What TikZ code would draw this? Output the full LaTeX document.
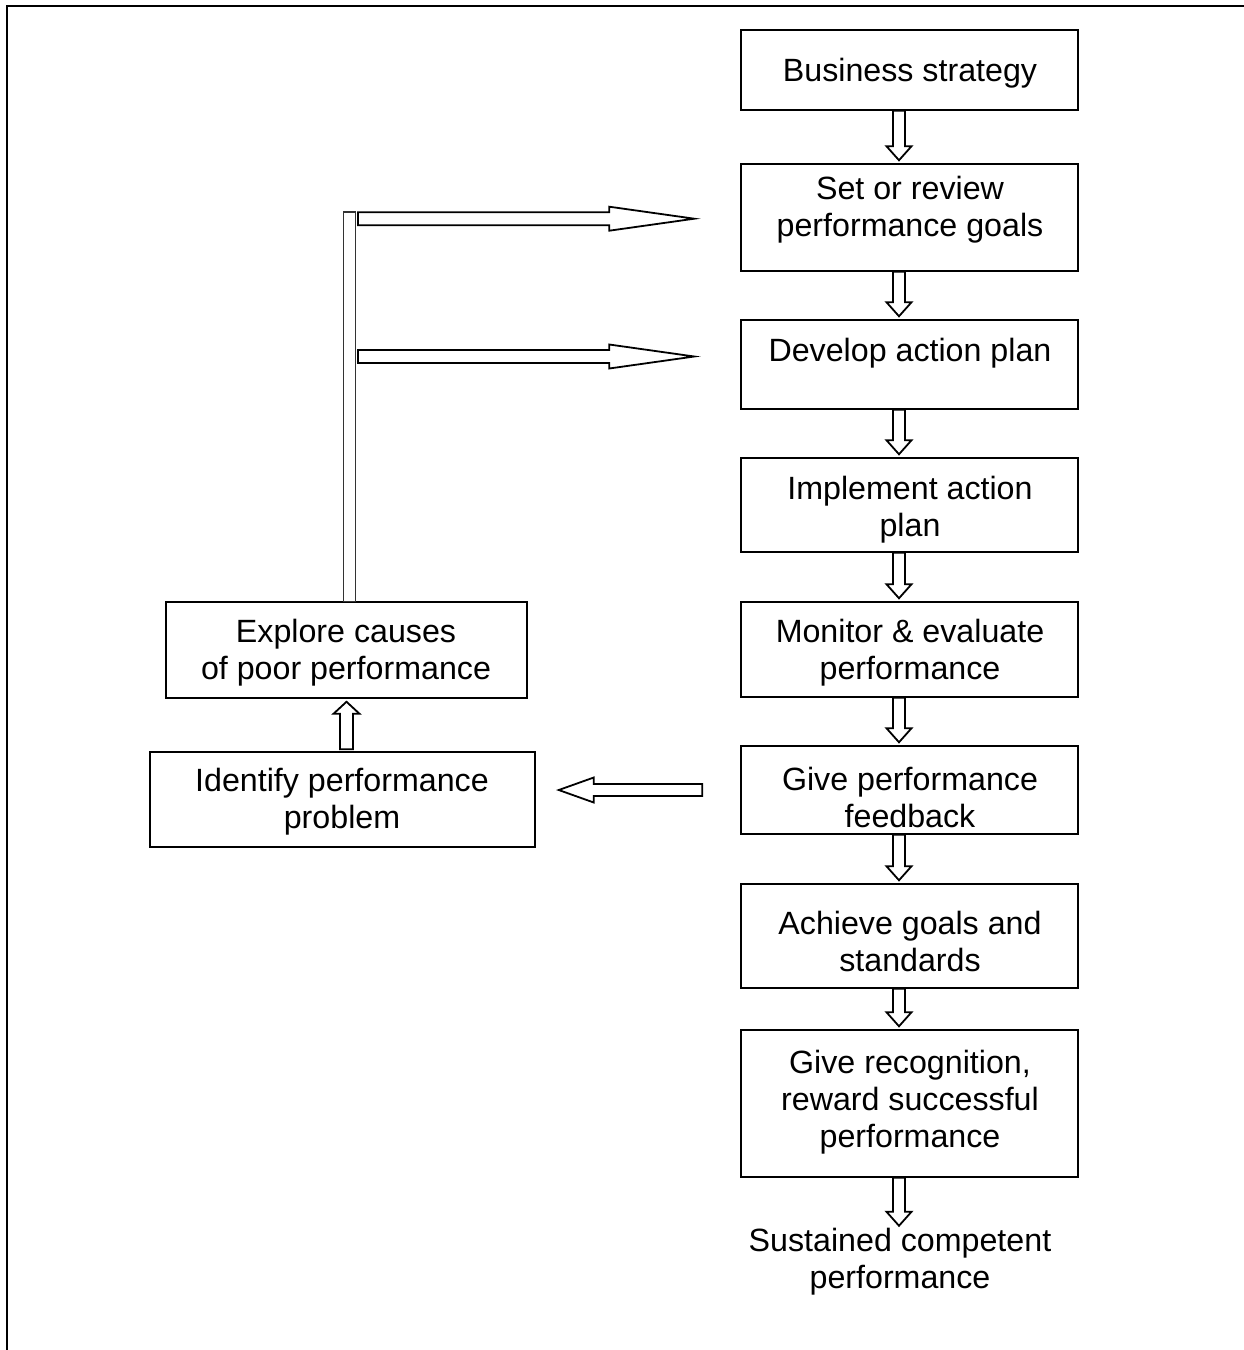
\documentclass[tikz,border=0pt]{standalone}
\usepackage{fontspec}
\setmainfont{Liberation Sans}
\usetikzlibrary{calc}

\tikzset{
  stepbox/.style={draw=black, line width=1.5pt, rectangle, inner sep=0pt},
  txt/.style={align=center, inner sep=0pt, font=\fontsize{32.2}{37}\selectfont},
  hollow/.style={draw=black, fill=white, line width=1.8pt, line join=miter},
  barline/.style={draw=black!80, line width=1.2pt},
  frameline/.style={draw=black, line width=2.5pt, line cap=rect}
}

% hollow block arrow: tail, tip, shaft half-width, head half-width, head length
\newcommand{\hollowarrow}[5]{%
  \coordinate (ha-base) at ($(#2)!#5!(#1)$);
  \draw[hollow] ($(#1)!#3!90:(#2)$) -- ($(ha-base)!#3!-90:(#1)$)
    -- ($(ha-base)!#4!-90:(#1)$) -- (#2) -- ($(ha-base)!#4!90:(#1)$)
    -- ($(ha-base)!#3!90:(#1)$) -- ($(#1)!#3!-90:(#2)$) -- cycle;
}

\begin{document}
\begin{tikzpicture}[x=1pt, y=-1pt]
\useasboundingbox (0,0) rectangle (1243,1350);

% open frame, left and top edges
\draw[frameline] (7,1350) -- (7,6) -- (1243,6);

% main column of steps
\node[stepbox, minimum width=337pt, minimum height=80pt]  (b1) at (909.5,70)    {};
\node[stepbox, minimum width=337pt, minimum height=107pt] (b2) at (909.5,217.5)  {};
\node[stepbox, minimum width=337pt, minimum height=89pt]  (b3) at (909.5,364.5)  {};
\node[stepbox, minimum width=337pt, minimum height=94pt]  (b4) at (909.5,505)    {};
\node[stepbox, minimum width=337pt, minimum height=95pt]  (b5) at (909.5,649.5)  {};
\node[stepbox, minimum width=337pt, minimum height=88pt]  (b6) at (909.5,790)    {};
\node[stepbox, minimum width=337pt, minimum height=104pt] (b7) at (909.5,936)    {};
\node[stepbox, minimum width=337pt, minimum height=147pt] (b8) at (909.5,1103.5) {};

\node[txt] (t1) at (910,73)    {Business strategy};
\node[txt] (t2) at (910,210)   {Set or review\\performance goals};
\node[txt] (t3) at (910,353)   {Develop action plan};
\node[txt] (t4) at (910,510)   {Implement action\\plan};
\node[txt] (t5) at (910,653)   {Monitor \& evaluate\\performance};
\node[txt] (t6) at (910,797)   {Give performance\\feedback};
\node[txt] (t7) at (910,941)   {Achieve goals and\\standards};
\node[txt] (t8) at (910,1102)  {Give recognition,\\reward successful\\performance};
\node[txt] (t9) at (900,1262)  {Sustained competent\\performance};

% side loop
\node[stepbox, minimum width=361pt, minimum height=96pt] (e) at (346.5,650)   {};
\node[stepbox, minimum width=385pt, minimum height=95pt] (p) at (342.5,799.5) {};
\node[txt] (te) at (346,653) {Explore causes\\of poor performance};
\node[txt] (tp) at (342,802) {Identify performance\\problem};

% downward arrows between the steps
\coordinate (colx) at (899,0);
\foreach \a/\b in {b1/b2,b2/b3,b3/b4,b4/b5,b5/b6,b6/b7,b7/b8} {
  \coordinate (dtail) at (\a.south -| colx);
  \coordinate (dtip) at ($(\b.north -| colx)+(0,-3)$);
  \hollowarrow{dtail}{dtip}{6pt}{12.5pt}{14pt}
}
\coordinate (dtail) at (b8.south -| colx);
\coordinate (dtip) at ($(b8.south -| colx)+(0,48)$);
\hollowarrow{dtail}{dtip}{6pt}{12.5pt}{14pt}

% feedback to problem identification
\coordinate (ltail) at ($(b6.west)+(-38,0)$);
\coordinate (ltip) at ($(p.east |- b6.west)+(23,0)$);
\hollowarrow{ltail}{ltip}{6pt}{12.5pt}{35pt}

% problem to causes
\coordinate (utail) at ($(p.north)+(4,-2)$);
\coordinate (utip) at ($(e.south -| utail)+(0,3)$);
\hollowarrow{utail}{utip}{6.5pt}{13pt}{12pt}

% riser from the causes box
\coordinate (bartop) at (349.5,212);
\draw[barline, fill=white] ($(bartop)+(-6,0)$) rectangle ($(bartop |- e.north)+(6,0)$);

% returns to goals and action plan
\coordinate (r1tail) at (358,218.7);
\coordinate (r1tip) at ($(b2.west |- r1tail)+(-46,0)$);
\hollowarrow{r1tail}{r1tip}{6.5pt}{12pt}{85pt}
\coordinate (r2tail) at (358,356.5);
\coordinate (r2tip) at ($(b3.west |- r2tail)+(-46,0)$);
\hollowarrow{r2tail}{r2tip}{6.5pt}{12pt}{85pt}
\end{tikzpicture}
\end{document}
